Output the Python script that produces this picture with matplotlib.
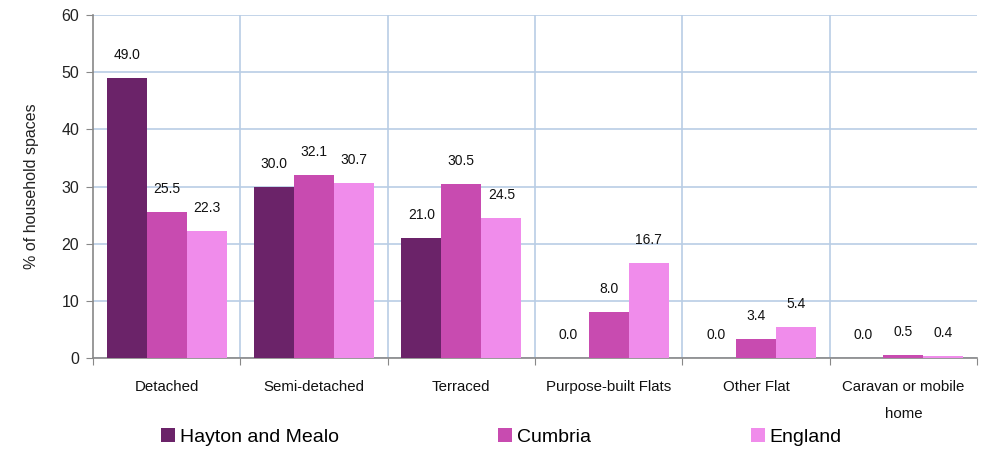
import numpy as np
import matplotlib.pyplot as plt

plt.rcParams['font.family'] = ['Liberation Sans', 'DejaVu Sans']

categories = ["Detached", "Semi-detached", "Terraced", "Purpose-built Flats",
              "Other Flat", "Caravan or mobile\nhome"]
series_names = ["Hayton and Mealo", "Cumbria", "England"]
hayton = [49.0, 30.0, 21.0, 0.0, 0.0, 0.0]
cumbria = [25.5, 32.1, 30.5, 8.0, 3.4, 0.5]
england = [22.3, 30.7, 24.5, 16.7, 5.4, 0.4]
colors = ["#6B2369", "#C84BB0", "#F08CEB"]

fig = plt.figure(figsize=(9.87, 4.51), dpi=100)
ax = fig.add_axes([0.0942, 0.2062, 0.8957, 0.7605])

x = np.arange(len(categories))
width = 0.272
for i, (vals, col, name) in enumerate(zip([hayton, cumbria, england], colors, series_names)):
    pos = x + (i - 1) * width
    ax.bar(pos, vals, width, color=col, label=name, zorder=3)
    for p, v in zip(pos, vals):
        ax.annotate(f"{v:.1f}", (p, v), xytext=(0, 16.5), textcoords="offset points",
                    ha="center", va="center", fontsize=10, color="#111111")

ax.set_xlim(-0.5, len(categories) - 0.5)
ax.set_ylim(0, 60)
ax.set_yticks(range(0, 61, 10))
ax.set_xticks(np.arange(len(categories) + 1) - 0.5)
ax.set_xticklabels([])
ax.set_xticks(x, minor=True)
ax.set_xticklabels(categories, minor=True, fontsize=10.8, linespacing=2.2)
ax.tick_params(axis="x", which="minor", length=0, pad=16, labelcolor="#111111")
ax.tick_params(axis="x", which="major", length=5, color="#888888")
ax.tick_params(axis="y", length=5, color="#888888", labelsize=11.5, pad=5,
               labelcolor="#222222")

# grid: horizontal lines plus separators between categories
ax.yaxis.grid(True, color="#B9CDE5", linewidth=1.2, zorder=0)
for b in np.arange(1, len(categories)) - 0.5:
    ax.axvline(b, color="#B9CDE5", linewidth=1.2, zorder=0)
for s in ["top", "right"]:
    ax.spines[s].set_visible(False)
for s in ["left", "bottom"]:
    ax.spines[s].set_color("#888888")
    ax.spines[s].set_linewidth(1.2)
ax.set_axisbelow(True)
ax.set_ylabel("% of household spaces", fontsize=11.5, labelpad=16, color="#222222")

fig.legend(loc="center", bbox_to_anchor=(0.5077, 0.031), ncol=3, frameon=False,
           fontsize=14, handlelength=0.72, handleheight=0.72, handletextpad=0.26,
           columnspacing=8.2)

fig.savefig("out.png", dpi=100)
